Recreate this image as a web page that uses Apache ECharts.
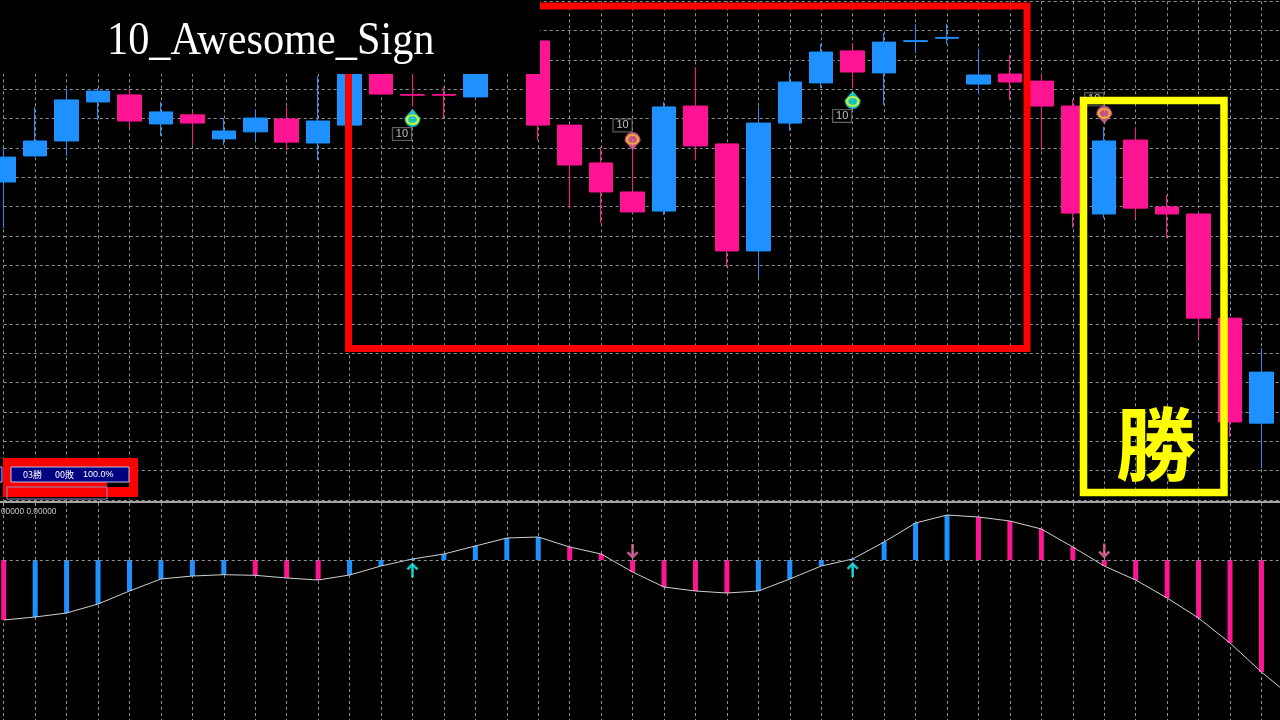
<!DOCTYPE html>
<html><head><meta charset="utf-8">
<script src="https://cdn.jsdelivr.net/npm/echarts@6/dist/echarts.min.js"></script>
<style>html,body{margin:0;padding:0;background:#000;}#c{width:1280px;height:720px;}</style>
</head><body><div id="c"></div>
<script>
// ---- candle data (price units; 10 units per grid row) ----
const opens  = [108.4,117.3,122.4,135.7,138.1,128.2,131.3,123.1,125.5,129.9,121.7,127.8,150.0,138.2,138.2,137.4,149.5,156.5,127.8,114.9,105.0,98.5,134.3,121.4,84.9,128.5,142.2,153.1,145.6,156.3,157.4,141.8,145.2,142.8,134.3,97.5,122.7,99.9,97.5,62.0,26.2];
const closes = [116.9,122.4,136.4,139.4,129.2,132.3,128.5,125.8,130.2,122.0,129.2,150.7,138.4,138.0,138.0,149.3,156.2,127.8,114.2,105.0,98.2,134.0,120.7,84.9,128.5,142.5,152.7,145.9,156.1,156.6,157.7,144.9,142.5,134.3,97.8,122.4,99.5,97.5,62.0,26.6,43.6];
const lows   = [92.7,116.9,117.3,129.5,126.5,124.1,121.0,121.0,122.4,119.3,115.9,127.2,138.2,134.3,130.2,136.7,147.5,122.7,99.5,94.4,98.0,97.2,115.9,79.4,76.0,125.8,140.5,140.5,134.7,152.4,155.5,138.4,136.4,119.3,92.7,96.1,96.1,89.3,55.2,21.5,10.9];
const highs  = [120.3,134.0,140.1,140.5,140.1,135.7,132.3,130.2,133.0,134.0,144.5,153.4,152.7,146.0,140.8,151.7,159.0,156.8,128.0,120.3,121.7,135.7,147.6,121.5,134.0,146.3,155.5,155.8,159.2,162.3,162.3,153.8,151.7,145.2,136.7,127.2,126.8,104.0,97.6,62.1,51.8];

// ---- Awesome oscillator (lower panel), one more bar than candles (off-screen right) ----
const ao = [-0.60,-0.57,-0.53,-0.44,-0.31,-0.19,-0.16,-0.147,-0.153,-0.18,-0.20,-0.15,-0.06,0.01,0.06,0.14,0.22,0.23,0.13,0.06,-0.12,-0.27,-0.31,-0.33,-0.31,-0.19,-0.06,0.01,0.18,0.37,0.45,0.43,0.39,0.31,0.13,-0.06,-0.20,-0.38,-0.58,-0.83,-1.12,-1.38];

// ---- signals ----
const buyBars = [13, 27];
const buyPrice = [130.2, 136.4];
const sellBars = [20, 35];
const sellPrice = [122.4, 131.3];
const upArrowBars = [13, 27];
const upArrowLevel = [-0.10, -0.095];
const downArrowBars = [20, 35];
const downArrowLevel = [0.085, 0.09];
const signalText = '10';

const BLUE = '#1E90FF', PINK = '#FF1493', GRIDC = '#8c919a';
const categories = ao.map((_, i) => 'b' + i);
const candles = opens.map((o, i) => [o, closes[i], lows[i], highs[i]]);
const aoBars = ao.map((v, i) => ({ value: v, itemStyle: { color: (i > 0 && v > ao[i - 1]) ? BLUE : PINK } }));

const dash = { color: GRIDC, type: [3, 3], width: 1 };
const hiddenAxis = { axisLine: { show: false }, axisTick: { show: false }, axisLabel: { show: false } };
const buyShape = 'path://M8,0 L16,9 C16,14 12.5,18 8,18 C3.5,18 0,14 0,9 Z';
const sellShape = 'path://M8,18 L16,9 C16,4 12.5,0 8,0 C3.5,0 0,4 0,9 Z';

const chart = echarts.init(document.getElementById('c'));
chart.setOption({
  backgroundColor: '#000',
  animation: false,
  grid: [
    { left: 3.7, width: 1289.2, top: 1.33, height: 498.67, containLabel: false, outerBoundsMode: 'none' },
    { left: 3.7, width: 1289.2, top: 503, height: 217, containLabel: false, outerBoundsMode: 'none' }
  ],
  xAxis: [
    Object.assign({ type: 'category', gridIndex: 0, data: categories, boundaryGap: false,
      splitLine: { show: true, interval: 0, lineStyle: dash } }, hiddenAxis),
    Object.assign({ type: 'category', gridIndex: 1, data: categories, boundaryGap: false,
      splitLine: { show: true, interval: 0, lineStyle: dash } }, hiddenAxis)
  ],
  yAxis: [
    Object.assign({ type: 'value', gridIndex: 0, min: 0, max: 170, interval: 10,
      splitLine: { show: true, lineStyle: dash } }, hiddenAxis),
    Object.assign({ type: 'value', gridIndex: 1, min: -1.6, max: 0.57,
      splitLine: { show: false } }, hiddenAxis)
  ],
  series: [
    { type: 'candlestick', xAxisIndex: 0, yAxisIndex: 0, data: candles, barWidth: 24, clip: false,
      itemStyle: { color: BLUE, color0: PINK, borderColor: BLUE, borderColor0: PINK, borderWidth: 1 } },
    { type: 'scatter', xAxisIndex: 0, yAxisIndex: 0, symbol: buyShape, symbolSize: [16, 18], z: 5,
      data: buyBars.map((b, i) => [b, buyPrice[i]]), itemStyle: { color: '#19F0F0' } },
    { type: 'scatter', xAxisIndex: 0, yAxisIndex: 0, symbol: sellShape, symbolSize: [16, 18], z: 5,
      data: sellBars.map((b, i) => [b, sellPrice[i]]), itemStyle: { color: '#F36AA6' } },
    { type: 'scatter', xAxisIndex: 0, yAxisIndex: 0, symbol: 'circle', symbolSize: [11, 9], symbolOffset: [0, 1.5], z: 6,
      data: buyBars.map((b, i) => [b, buyPrice[i]]),
      itemStyle: { color: 'rgba(0,0,0,0)', borderColor: '#FFFF00', borderWidth: 2 } },
    { type: 'scatter', xAxisIndex: 0, yAxisIndex: 0, symbol: 'circle', symbolSize: [11, 9], symbolOffset: [0, -1.5], z: 6,
      data: sellBars.map((b, i) => [b, sellPrice[i]]),
      itemStyle: { color: 'rgba(0,0,0,0)', borderColor: '#FFC21A', borderWidth: 2 } },
    { type: 'scatter', xAxisIndex: 0, yAxisIndex: 0, symbolSize: 0, z: 7,
      data: buyBars.map((b, i) => ({ value: [b, buyPrice[i]], label: { offset: [-10.5, 16] } }))
        .concat(sellBars.map((b, i) => ({ value: [b, sellPrice[i]], label: { offset: [-10, -15.5] } }))),
      label: { show: true, position: 'inside', formatter: signalText, color: '#e8e8e8', fontSize: 11,
        fontFamily: 'Liberation Sans', backgroundColor: '#000', borderColor: '#7a7a7a', borderWidth: 1,
        padding: [1, 3, 0, 3] } },
    { type: 'bar', xAxisIndex: 1, yAxisIndex: 1, data: aoBars, barWidth: 5, clip: false,
      markLine: { silent: true, symbol: ['none', 'none'], label: { show: false }, lineStyle: dash,
        data: [{ yAxis: 0 }] } },
    { type: 'line', xAxisIndex: 1, yAxisIndex: 1, data: ao, symbol: 'none', z: 4,
      lineStyle: { color: '#cfcfcf', width: 1 } },
    { type: 'scatter', xAxisIndex: 1, yAxisIndex: 1, z: 5, symbolSize: [12, 15],
      symbol: 'path://M6,0 L12,6.5 L10.2,8.3 L7.3,5.3 L7.3,16 L4.7,16 L4.7,5.3 L1.8,8.3 L0,6.5 Z',
      data: upArrowBars.map((b, i) => [b, upArrowLevel[i]]), itemStyle: { color: '#1CF2F2' } },
    { type: 'scatter', xAxisIndex: 1, yAxisIndex: 1, z: 5, symbolSize: [12, 15],
      symbol: 'path://M6,16 L12,9.5 L10.2,7.7 L7.3,10.7 L7.3,0 L4.7,0 L4.7,10.7 L1.8,7.7 L0,9.5 Z',
      data: downArrowBars.map((b, i) => [b, downArrowLevel[i]]), itemStyle: { color: '#F46FAA' } }
  ],
  graphic: { elements: [
    { type: 'rect', z: 100, shape: { x: 0, y: 501, width: 1280, height: 2 }, style: { fill: '#a3a3a3' } },
    { type: 'text', z: 100, x: 1, y: 512, style: { text: '00000 0.00000', fill: '#c8c8c8', fontSize: 8.3,
      fontFamily: 'Liberation Sans', verticalAlign: 'middle', align: 'left' } },
    { type: 'rect', z: 110, shape: { x: 348.5, y: 6, width: 678.5, height: 342.5 },
      style: { fill: 'none', stroke: '#FF0000', lineWidth: 7 } },
    { type: 'rect', z: 120, shape: { x: 0, y: 0, width: 540, height: 74 }, style: { fill: '#000' } },
    { type: 'text', z: 130, x: 107, y: 41.7, scaleX: 0.9, style: { text: '10_Awesome_Sign', fill: '#fff',
      fontSize: 47, fontFamily: '"Liberation Serif", "DejaVu Serif", serif', verticalAlign: 'middle', align: 'left' } },
    { type: 'rect', z: 110, shape: { x: 1083.5, y: 100.5, width: 140.5, height: 392 },
      style: { fill: 'none', stroke: '#FFFF00', lineWidth: 7.5 } },
    { type: 'text', z: 115, x: 1156, y: 444, style: { text: '勝', fill: '#FFFF00', fontSize: 80,
      fontWeight: 'bold', fontFamily: '"Noto Sans CJK JP", sans-serif', verticalAlign: 'middle', align: 'center' } },
    { type: 'rect', z: 110, shape: { x: 3, y: 458, width: 135, height: 39 }, style: { fill: '#FF0000' } },
    { type: 'rect', z: 111, shape: { x: 107, y: 482, width: 22, height: 5 }, style: { fill: '#000' } },
    { type: 'rect', z: 111, shape: { x: 7, y: 487, width: 100, height: 12 }, style: { fill: 'none', stroke: '#9090c0', lineWidth: 1 } },
    { type: 'rect', z: 111, shape: { x: -5, y: 467, width: 7, height: 15 }, style: { fill: '#000080', stroke: '#c0c0e0', lineWidth: 1 } },
    { type: 'rect', z: 112, shape: { x: 11, y: 467, width: 118, height: 15 }, style: { fill: '#000080', stroke: '#c0c0e0', lineWidth: 1 } },
    { type: 'text', z: 113, x: 23, y: 475, style: { text: '03勝', fill: '#fff', fontSize: 9, fontFamily: '"Noto Sans CJK JP", sans-serif', verticalAlign: 'middle' } },
    { type: 'text', z: 113, x: 55, y: 475, style: { text: '00敗', fill: '#fff', fontSize: 9, fontFamily: '"Noto Sans CJK JP", sans-serif', verticalAlign: 'middle' } },
    { type: 'text', z: 113, x: 83, y: 475, style: { text: '100.0%', fill: '#fff', fontSize: 9, fontFamily: '"Liberation Sans", sans-serif', verticalAlign: 'middle' } }
  ] }
});
</script></body></html>
